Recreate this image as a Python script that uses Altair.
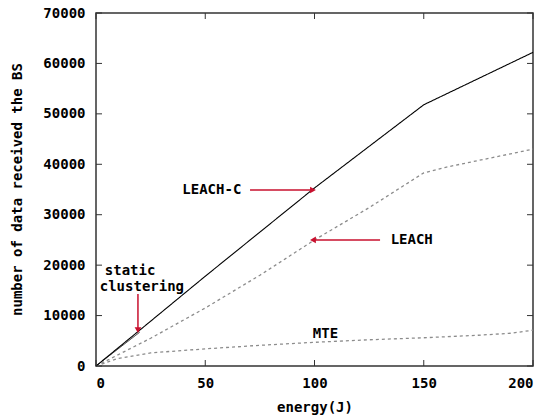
import altair as alt
import pandas as pd

# ---- data ----
leachc_x = [0, 20, 50, 100, 150, 175, 200]
leachc_y = [0, 7100, 17800, 35300, 51800, 57000, 62200]

leach_x = [0, 25, 50, 75, 100, 125, 150, 160, 200]
leach_y = [0, 5500, 11500, 18000, 25000, 31400, 38300, 39400, 43000]

mte_x = [0, 10, 25, 50, 75, 100, 125, 150, 175, 190, 200]
mte_y = [0, 1500, 2600, 3400, 4100, 4700, 5200, 5600, 6100, 6500, 7100]

static_x = [0, 20]
static_y = [0, 6700]

x_ticks = [0, 50, 100, 150, 200]
y_ticks = [0, 10000, 20000, 30000, 40000, 50000, 60000, 70000]

labels_text = ["LEACH-C", "LEACH", "MTE", "static", "clustering"]
labels_x = [53, 144.5, 105, 15.6, 21]
labels_y = [34900, 25000, 6300, 18900, 15600]

arrow_x1 = [70.5, 130, 19.2]
arrow_x2 = [99.3, 99.3, 19.2]
arrow_y1 = [34900, 25000, 14300]
arrow_y2 = [34900, 25000, 7100]
arrow_shape = ["triangle-right", "triangle-left", "triangle-down"]

FONT = "DejaVu Sans Mono"
RED = "#c8102e"
W, H = 437, 353
FS = 14

def series(name, xs, ys):
    return pd.DataFrame({"energy": xs, "value": ys, "series": name})

xs = alt.Scale(domain=[0, 200], nice=False, zero=False)
ys = alt.Scale(domain=[0, 70000], nice=False)

base_x = alt.X("energy:Q", scale=xs,
               axis=alt.Axis(values=x_ticks, title="energy(J)", ticks=False, domain=False,
                             grid=False, labelPadding=17, labelFont=FONT, labelFontSize=FS,
                             labelFontWeight="bold", labelColor="black", format="d",
                             titleFont=FONT, titleFontSize=FS, titleFontWeight="bold",
                             titleColor="black", titleY=41, titleX=W / 2,
                             titleBaseline="middle", labelBaseline="middle"))
base_y = alt.Y("value:Q", scale=ys,
               axis=alt.Axis(values=y_ticks, title="number of data received the BS",
                             ticks=False, domain=False, grid=False, labelPadding=11,
                             labelFont=FONT, labelFontSize=FS, labelFontWeight="bold",
                             labelColor="black", labelBaseline="middle", format="d",
                             titleFont=FONT, titleFontSize=FS, titleFontWeight="bold",
                             titleColor="black", titleX=-79, titleY=176,
                             titleBaseline="middle", titleAlign="center"))

def line(df, color, dash, width):
    return alt.Chart(df).mark_line(color=color, strokeDash=dash, strokeWidth=width).encode(
        x=base_x, y=base_y)

l_leachc = line(series("LEACH-C", leachc_x, leachc_y), "black", [1, 0], 1.1)
l_static = line(series("static clustering", static_x, static_y), "black", [1, 0], 0.8)
l_leach = line(series("LEACH", leach_x, leach_y), "#8c8c8c", [3, 3], 1.3)
l_mte = line(series("MTE", mte_x, mte_y), "#8c8c8c", [3, 3], 1.3)

# inner ticks (gnuplot style, mirrored)
xt = pd.DataFrame({"t": x_ticks})
yt = pd.DataFrame({"t": y_ticks})
tick_color = "#333"
tb = alt.Chart(xt).mark_rule(color=tick_color, strokeWidth=1).encode(
    x=alt.X("t:Q", scale=xs), y=alt.value(H), y2=alt.value(H - 6))
tt = alt.Chart(xt).mark_rule(color=tick_color, strokeWidth=1).encode(
    x=alt.X("t:Q", scale=xs), y=alt.value(0), y2=alt.value(6))
tl = alt.Chart(yt).mark_rule(color=tick_color, strokeWidth=1).encode(
    y=alt.Y("t:Q", scale=ys), x=alt.value(0), x2=alt.value(6))
tr = alt.Chart(yt).mark_rule(color=tick_color, strokeWidth=1).encode(
    y=alt.Y("t:Q", scale=ys), x=alt.value(W), x2=alt.value(W - 6))

# annotations
lab_df = pd.DataFrame({"text": labels_text, "x": labels_x, "y": labels_y})
labels = alt.Chart(lab_df).mark_text(font=FONT, fontSize=FS, fontWeight="bold",
                                     color="black", baseline="middle").encode(
    x=alt.X("x:Q", scale=xs), y=alt.Y("y:Q", scale=ys), text="text:N")

arr_df = pd.DataFrame({"x1": arrow_x1, "x2": arrow_x2, "y1": arrow_y1, "y2": arrow_y2,
                       "shape": arrow_shape})
arr_lines = alt.Chart(arr_df).mark_rule(color=RED, strokeWidth=1.5).encode(
    x=alt.X("x1:Q", scale=xs), x2="x2:Q", y=alt.Y("y1:Q", scale=ys), y2="y2:Q")
arr_heads = alt.Chart(arr_df).mark_point(filled=True, color=RED, size=45, opacity=1).encode(
    x=alt.X("x2:Q", scale=xs), y=alt.Y("y2:Q", scale=ys),
    shape=alt.Shape("shape:N", scale=None))

chart = alt.layer(l_leach, l_mte, l_static, l_leachc, tb, tt, tl, tr,
                  arr_lines, arr_heads, labels).properties(
    width=W, height=H,
    autosize=alt.AutoSizeParams(type="none"),
    padding={"left": 96, "top": 13, "right": 17, "bottom": 52},
    background="white",
).configure_view(stroke="#333", strokeWidth=1.5)

chart.save("out.html", embed_options={"renderer": "svg", "actions": False})
